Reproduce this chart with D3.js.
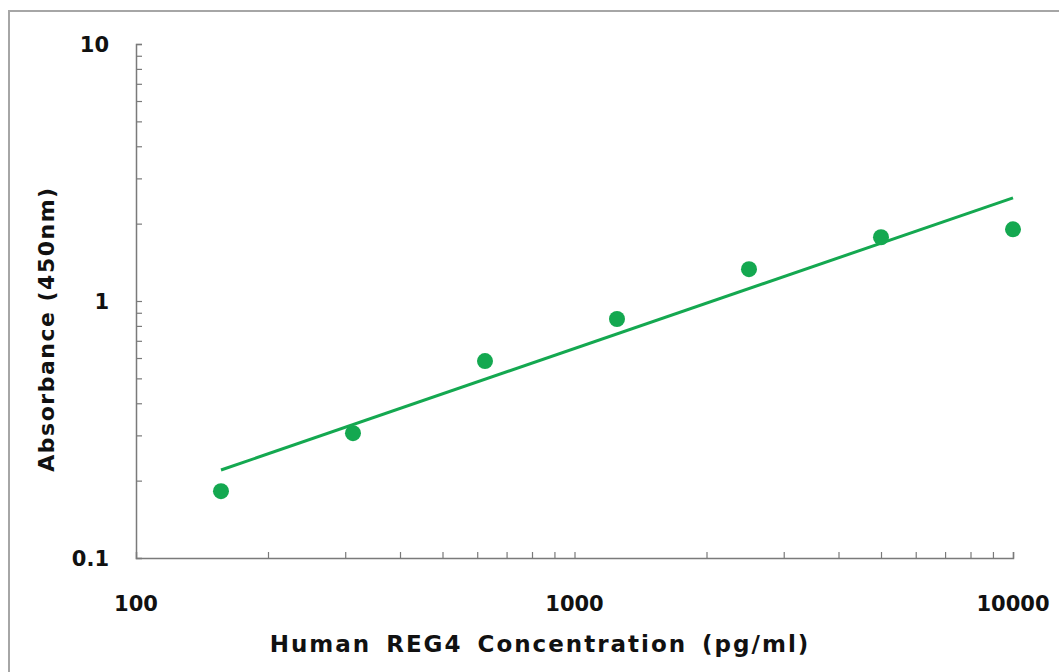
<!DOCTYPE html>
<html>
<head>
<meta charset="utf-8">
<script src="https://cdn.jsdelivr.net/npm/d3@7"></script>
<style>
	html, body { margin: 0; padding: 0; background: #fff; }
	svg text { font-family: "DejaVu Sans", Arial, sans-serif; font-weight: bold; fill: #111; }
</style>
</head>
<body>
<div id="chart"></div>
<script>
// Standard curve: concentration (pg/ml) vs absorbance
const concentrations = [156.25, 312.5, 625, 1250, 2500, 5000, 10000];
const absorbances = [0.182, 0.306, 0.584, 0.851, 1.33, 1.77, 1.9];

// Trend line (power fit) end points
const fitX = [156.25, 10000];
const fitY = [0.22, 2.52];

const xTicks = [100, 1000, 10000];
const yTicks = [0.1, 1, 10];
const xLabel = "Human REG4 Concentration (pg/ml)";
const yLabel = "Absorbance (450nm)";

const W = 1059, H = 672;
const margin = { top: 44, right: 46, bottom: 114, left: 136 };
const iW = W - margin.left - margin.right;
const iH = H - margin.top - margin.bottom;
const green = "#14a850";
const axisColor = "#7a7a7a";

const svg = d3.select("#chart").append("svg")
	.attr("width", W)
	.attr("height", H);

// outer frame
svg.append("rect")
	.attr("x", 9).attr("y", 11)
	.attr("width", W + 10).attr("height", H + 10)
	.attr("fill", "none")
	.attr("stroke", "#a6a6a6")
	.attr("stroke-width", 2);

const g = svg.append("g")
	.attr("transform", `translate(${margin.left},${margin.top})`);

const x = d3.scaleLog().domain([100, 10000]).range([0, iW]);
const y = d3.scaleLog().domain([0.1, 10]).range([iH, 0]);

// minor + major ticks pointing inward
const xAll = x.ticks().filter((d) => d > 100);
const yAll = y.ticks().filter((d) => d > 0.1);

const xAxis = g.append("g")
	.attr("transform", `translate(0,${iH})`)
	.call(d3.axisTop(x).tickValues(xAll).tickSize(6).tickFormat(""));
const yAxis = g.append("g")
	.call(d3.axisRight(y).tickValues(yAll).tickSize(6).tickFormat(""));

[xAxis, yAxis].forEach((a) => {
	a.select(".domain").attr("stroke", axisColor).attr("stroke-width", 1.5);
	a.selectAll(".tick line").attr("stroke", axisColor).attr("stroke-width", 1.2);
});

// tick labels
g.selectAll(".xlab").data(xTicks).join("text")
	.attr("x", (d) => x(d))
	.attr("y", iH + 53)
	.attr("text-anchor", "middle")
	.style("font-size", "21px")
	.text((d) => d);

g.selectAll(".ylab").data(yTicks).join("text")
	.attr("x", -27)
	.attr("y", (d) => y(d) + 8)
	.attr("text-anchor", "end")
	.style("font-size", "21px")
	.text((d) => d);

// trend line
g.append("path")
	.datum(fitX.map((d, i) => [d, fitY[i]]))
	.attr("fill", "none")
	.attr("stroke", green)
	.attr("stroke-width", 3)
	.attr("d", d3.line().x((d) => x(d[0])).y((d) => y(d[1])));

// points
g.selectAll(".pt").data(concentrations).join("circle")
	.attr("cx", (d) => x(d))
	.attr("cy", (d, i) => y(absorbances[i]))
	.attr("r", 8)
	.attr("fill", green);

// axis titles
svg.append("text")
	.attr("x", 540)
	.attr("y", 652)
	.attr("text-anchor", "middle")
	.style("font-size", "23px")
	.style("letter-spacing", "2px")
	.style("word-spacing", "5px")
	.text(xLabel);

svg.append("text")
	.attr("transform", "translate(54,329) rotate(-90)")
	.attr("text-anchor", "middle")
	.style("font-size", "22px")
	.style("letter-spacing", "1.5px")
	.text(yLabel);
</script>
</body>
</html>
